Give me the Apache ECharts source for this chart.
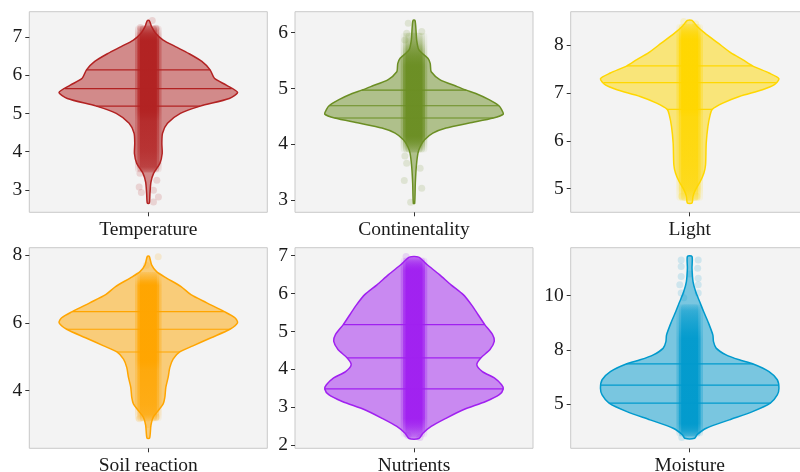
<!DOCTYPE html>
<html><head><meta charset="utf-8">
<script src="https://cdn.jsdelivr.net/npm/echarts@6/dist/echarts.min.js"></script>
<style>html,body{margin:0;padding:0;background:#fff}#c{width:800px;height:472px}</style>
</head><body><div id="c"></div>
<script>
// ---------- data ----------
const categories = ['Temperature', 'Continentality', 'Light', 'Soil reaction', 'Nutrients', 'Moisture'];

// violin outlines: value (y) and half-width (relative, max = 270)
const tempY = [2.65, 2.9, 3.2, 3.43, 3.69, 3.95, 4.21, 4.48, 4.74, 5.0, 5.19, 5.39, 5.55, 5.74, 5.92, 6.14, 6.36, 6.57, 6.75, 6.92, 7.10, 7.27, 7.43];
const tempW = [3, 5, 8, 16, 35, 42, 41, 43, 58, 97, 157, 245, 270, 236, 200, 187, 162, 122, 82, 45, 22, 10, 3];
const contY = [2.94, 3.3, 3.6, 3.84, 3.96, 4.08, 4.20, 4.29, 4.38, 4.47, 4.54, 4.62, 4.69, 4.80, 4.91, 4.97, 5.04, 5.16, 5.30, 5.39, 5.45, 5.54, 5.69, 5.87, 6.05, 6.22];
const contW = [2, 4, 7, 12, 19, 32, 57, 97, 167, 240, 270, 265, 257, 227, 187, 158, 128, 78, 52, 50, 49, 42, 15, 8, 6, 3];
const lightY = [4.70, 4.84, 4.97, 5.15, 5.33, 5.50, 5.95, 6.30, 6.55, 6.66, 6.79, 6.93, 7.07, 7.17, 7.30, 7.42, 7.57, 7.70, 7.84, 8.05, 8.26, 8.40, 8.52];
const lightW = [7, 10, 17, 32, 43, 48, 50, 55, 62, 68, 100, 150, 220, 255, 270, 240, 190, 160, 125, 85, 45, 22, 7];
const soilY = [2.60, 2.98, 3.22, 3.41, 3.61, 3.80, 4.10, 4.39, 4.68, 4.93, 5.14, 5.32, 5.56, 5.81, 6.0, 6.15, 6.33, 6.59, 6.83, 7.07, 7.32, 7.51, 7.71, 7.96];
const soilW = [4, 8, 15, 30, 45, 50, 53, 60, 65, 75, 95, 135, 190, 247, 270, 262, 230, 177, 129, 99, 55, 25, 10, 3];
const nutrY = [2.17, 2.31, 2.49, 2.71, 2.93, 3.15, 3.33, 3.48, 3.59, 3.77, 3.94, 4.12, 4.30, 4.52, 4.74, 4.91, 5.18, 5.44, 5.70, 5.97, 6.23, 6.50, 6.76, 6.96];
const nutrW = [15, 27, 52, 98, 149, 217, 258, 270, 265, 243, 207, 190, 202, 230, 243, 238, 214, 194, 174, 149, 112, 77, 40, 14];
const moistY = [3.42, 3.58, 3.88, 4.27, 4.65, 5.04, 5.42, 5.73, 6.12, 6.50, 6.85, 7.04, 7.27, 7.58, 7.88, 8.19, 8.81, 9.27, 9.73, 10.19, 10.65, 11.27, 11.81];
const moistW = [15, 22, 50, 120, 190, 244, 265, 270, 265, 240, 192, 150, 110, 80, 72, 70, 55, 42, 30, 18, 10, 7, 7];

// quartiles (25%, 50%, 75%)
const tempQ = [5.19, 5.65, 6.14];
const contQ = [4.47, 4.69, 4.97];
const lightQ = [6.66, 7.22, 7.57];
const soilQ = [5.14, 5.81, 6.33];
const nutrQ = [3.48, 4.30, 5.18];
const moistQ = [5.04, 5.87, 6.85];

// jittered point cloud: value and opacity of the dense strip
const tempCloudY = [3.45, 3.6, 4.0, 4.8, 5.1, 6.9, 7.1, 7.3];
const tempCloudA = [0.12, 0.45, 0.6, 0.7, 0.95, 0.95, 0.6, 0.15];
const contCloudY = [3.85, 4.0, 4.15, 5.4, 5.6, 5.8, 6.0];
const contCloudA = [0.12, 0.5, 0.9, 0.9, 0.6, 0.3, 0.1];
const lightCloudY = [4.75, 5.0, 5.5, 6.5, 6.7, 8.1, 8.3, 8.45];
const lightCloudA = [0.2, 0.5, 0.6, 0.7, 0.95, 0.95, 0.5, 0.15];
const soilCloudY = [3.1, 3.3, 3.6, 4.6, 4.9, 7.1, 7.3, 7.5];
const soilCloudA = [0.15, 0.5, 0.6, 0.7, 0.95, 0.95, 0.4, 0.1];
const nutrCloudY = [2.2, 2.4, 2.7, 6.6, 6.8, 6.95];
const nutrCloudA = [0.1, 0.4, 0.9, 0.9, 0.5, 0.15];
const moistCloudY = [3.5, 3.8, 4.1, 8.0, 8.6, 9.3, 9.6];
const moistCloudA = [0.2, 0.6, 0.9, 0.85, 0.6, 0.35, 0.1];

// sparse tail points [x (category at 1), value]
const tempTail = [[0.96, 7.25], [1.04, 7.23], [1.02, 7.43], [0.958, 3.43], [1.043, 3.25], [0.954, 3.07], [1.026, 2.99], [1.051, 2.81], [1.026, 2.68], [0.965, 2.93]];
const contTail = [[0.954, 3.79], [0.963, 3.66], [1.031, 3.57], [0.951, 3.35], [1.039, 3.21], [0.983, 2.96], [0.971, 6.17], [0.963, 5.99], [1.039, 6.02], [0.954, 5.87]];
const lightTail = [[0.96, 4.84], [1.035, 4.84], [0.97, 8.5], [1.03, 8.45]];
const soilTail = [[1.05, 7.95], [0.99, 7.70], [0.955, 3.17], [1.04, 3.22], [1.0, 3.0]];
const nutrTail = [[0.96, 6.98], [0.97, 2.25], [1.03, 2.2]];
const moistTail = [[0.957, 11.65], [1.043, 11.65], [0.957, 11.35], [1.04, 11.27], [0.957, 10.88], [1.043, 10.8], [0.95, 10.5], [1.043, 10.5], [0.957, 10.12], [1.043, 10.12], [1.0, 11.0], [0.97, 9.9], [0.96, 3.45]];

// axis ranges and tick labels
const yMin = [2.41, 2.78, 4.506, 2.30, 1.913, 2.956];
const yMax = [7.663, 6.376, 8.703, 8.215, 7.21, 12.215];
const tempTicks = [3, 4, 5, 6, 7];
const contTicks = [3, 4, 5, 6];
const lightTicks = [5, 6, 7, 8];
const soilTicks = [4, 6, 8];
const nutrTicks = [2, 3, 4, 5, 6, 7];
const moistTicks = [5, 7.5, 10];
const moistTickLabels = ['5', '8', '10'];

const colors = ['#B22222', '#6B8E23', '#FFD700', '#FFA500', '#A020F0', '#009ACD'];

// ---------- build ----------
const panels = [
  {y: tempY, w: tempW, q: tempQ, cy: tempCloudY, ca: tempCloudA, tail: tempTail, ticks: tempTicks},
  {y: contY, w: contW, q: contQ, cy: contCloudY, ca: contCloudA, tail: contTail, ticks: contTicks},
  {y: lightY, w: lightW, q: lightQ, cy: lightCloudY, ca: lightCloudA, tail: lightTail, ticks: lightTicks},
  {y: soilY, w: soilW, q: soilQ, cy: soilCloudY, ca: soilCloudA, tail: soilTail, ticks: soilTicks},
  {y: nutrY, w: nutrW, q: nutrQ, cy: nutrCloudY, ca: nutrCloudA, tail: nutrTail, ticks: nutrTicks},
  {y: moistY, w: moistW, q: moistQ, cy: moistCloudY, ca: moistCloudA, tail: moistTail, ticks: moistTicks, labels: moistTickLabels}
];

function rgba(hex, a) {
  const n = parseInt(hex.slice(1), 16);
  return 'rgba(' + ((n >> 16) & 255) + ',' + ((n >> 8) & 255) + ',' + (n & 255) + ',' + a + ')';
}
function interp(ys, ws, v) {
  for (let k = 0; k < ys.length - 1; k++) {
    if (v >= ys[k] && v <= ys[k + 1]) {
      const t = (v - ys[k]) / (ys[k + 1] - ys[k]);
      return ws[k] + t * (ws[k + 1] - ws[k]);
    }
  }
  return 0;
}
const HALF = 0.45, WMAX = 270, JIT = 0.055;
const FONT = '"Liberation Serif", "Times New Roman", serif';
const lefts = [29.3, 295, 570.7], tops = [11.7, 247.7];
const GW = 238, GH = 200.6;

const grid = [], xAxis = [], yAxis = [], series = [];
panels.forEach((p, i) => {
  const col = colors[i];
  grid.push({left: lefts[i % 3], top: tops[Math.floor(i / 3)], width: GW, height: GH,
    show: true, backgroundColor: '#F3F3F3', borderColor: '#C9C9C9', borderWidth: 1,
    containLabel: false, outerBoundsMode: 'none'});
  xAxis.push({type: 'value', gridIndex: i, min: 0.4, max: 1.6, show: false});
  xAxis.push({type: 'category', gridIndex: i, data: [categories[i]], position: 'bottom',
    axisLine: {show: false}, splitLine: {show: false},
    axisTick: {show: true, alignWithLabel: true, length: 4, lineStyle: {color: '#333', width: 1}},
    axisLabel: {fontFamily: FONT, fontSize: 19.5, color: '#1A1A1A', margin: 7.5}});
  yAxis.push({type: 'value', gridIndex: i, min: yMin[i], max: yMax[i],
    axisLine: {show: false}, splitLine: {show: false},
    axisTick: {show: true, length: 4, customValues: p.ticks, lineStyle: {color: '#333', width: 1}},
    axisLabel: {fontFamily: FONT, fontSize: 19.5, color: '#1A1A1A', margin: 7, customValues: p.ticks,
      formatter: v => { if (p.labels) { const k = p.ticks.indexOf(v); return k >= 0 ? p.labels[k] : ''; } return String(v); }}});
  const xi = i * 2;
  series.push({
    type: 'custom', coordinateSystem: 'cartesian2d', xAxisIndex: xi, yAxisIndex: i, silent: true, z: 2,
    data: [[1, p.y[0]]],
    renderItem: (params, api) => {
      const pts = [];
      for (let k = 0; k < p.y.length; k++) pts.push(api.coord([1 + p.w[k] / WMAX * HALF, p.y[k]]));
      for (let k = p.y.length - 1; k >= 0; k--) pts.push(api.coord([1 - p.w[k] / WMAX * HALF, p.y[k]]));
      const children = [{type: 'polygon', shape: {points: pts, smooth: 0.25},
        style: {fill: rgba(col, 0.5), stroke: col, lineWidth: 1.5}}];
      p.q.forEach(q => {
        const hw = interp(p.y, p.w, q) / WMAX * HALF;
        const a = api.coord([1 - hw, q]), b = api.coord([1 + hw, q]);
        children.push({type: 'line', shape: {x1: a[0], y1: a[1], x2: b[0], y2: b[1]},
          style: {stroke: col, lineWidth: 1.2}});
      });
      return {type: 'group', children};
    }
  });
  series.push({
    type: 'custom', coordinateSystem: 'cartesian2d', xAxisIndex: xi, yAxisIndex: i, silent: true, z: 3,
    data: [[1, p.cy[0]]],
    renderItem: (params, api) => {
      const top = p.cy[p.cy.length - 1], bot = p.cy[0];
      const layers = [[JIT + 0.012, 0.35], [JIT, 0.75], [JIT - 0.012, 1]];
      const children = layers.map(([jw, f]) => {
        const a = api.coord([1 - jw, top]), b = api.coord([1 + jw, bot]);
        const stops = [];
        for (let k = p.cy.length - 1; k >= 0; k--) {
          stops.push({offset: (top - p.cy[k]) / (top - bot), color: rgba(col, (p.ca[k] * f).toFixed(3))});
        }
        return {type: 'rect', shape: {x: a[0], y: a[1], width: b[0] - a[0], height: b[1] - a[1], r: 3},
          style: {fill: {type: 'linear', x: 0, y: 0, x2: 0, y2: 1, colorStops: stops}}};
      });
      return {type: 'group', children};
    }
  });
  series.push({
    type: 'scatter', xAxisIndex: xi, yAxisIndex: i, silent: true, z: 3,
    data: p.tail, symbolSize: 7,
    itemStyle: {color: col, opacity: 0.15}
  });
});

const chart = echarts.init(document.getElementById('c'), null, {renderer: 'canvas'});
chart.setOption({animation: false, backgroundColor: '#FFFFFF', grid, xAxis, yAxis, series});
</script></body></html>
